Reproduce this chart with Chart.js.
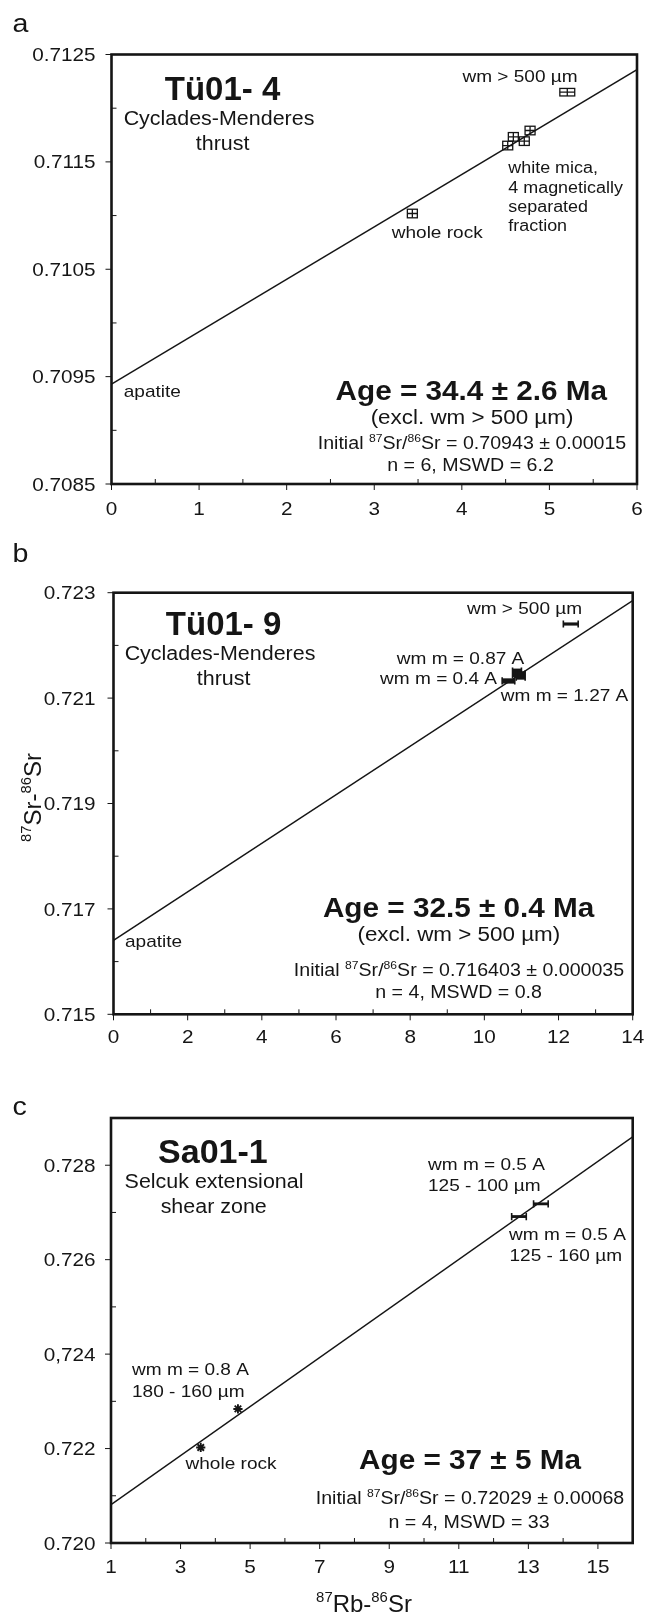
<!DOCTYPE html>
<html>
<head>
<meta charset="utf-8">
<script src="https://cdn.jsdelivr.net/npm/chart.js@4.4.1/dist/chart.umd.min.js"></script>
<style>
  html, body { margin: 0; padding: 0; background: #ffffff; }
  body { width: 646px; height: 1614px; position: relative; overflow: hidden; }
  canvas { position: absolute; left: 0; }
</style>
</head>
<body>
<canvas id="panelA"></canvas>
<canvas id="panelB"></canvas>
<canvas id="panelC"></canvas>
<script>
// ---------- Panel a: Tü01-4 ----------
const aXTicks = [0, 1, 2, 3, 4, 5, 6];
const aXTickLabels = ['0', '1', '2', '3', '4', '5', '6'];
const aXMinor = [0.5, 1.5, 2.5, 3.5, 4.5, 5.5];
const aYTicks = [0.7085, 0.7095, 0.7105, 0.7115, 0.7125];
const aYTickLabels = ['0.7085', '0.7095', '0.7105', '0.7115', '0.7125'];
const aYMinor = [0.709, 0.710, 0.711, 0.712];
// whole rock, four white-mica fractions, wm > 500 µm
const aRbSr   = [3.435, 4.524, 4.588, 4.713, 4.779, 5.204];
const aSrSr   = [0.711019, 0.711652, 0.711733, 0.711693, 0.711792, 0.712149];
const aRbErr  = [0.057, 0.057, 0.057, 0.057, 0.057, 0.085];
const aSrErr  = [0.00004, 0.00004, 0.00004, 0.00004, 0.00004, 0.000035];
const aIsoX   = [0, 6];
const aIsoY   = [0.70943, 0.71236];

// ---------- Panel b: Tü01-9 ----------
const bXTicks = [0, 2, 4, 6, 8, 10, 12, 14];
const bXTickLabels = ['0', '2', '4', '6', '8', '10', '12', '14'];
const bXMinor = [1, 3, 5, 7, 9, 11, 13];
const bYTicks = [0.715, 0.717, 0.719, 0.721, 0.723];
const bYTickLabels = ['0.715', '0.717', '0.719', '0.721', '0.723'];
const bYMinor = [0.716, 0.718, 0.720, 0.722];
// wm m = 0.4 A, wm m = 0.87 A, wm m = 1.27 A, wm > 500 µm
const bRbSr   = [10.65, 10.88, 10.98, 12.33];
const bSrSr   = [0.721325, 0.72148, 0.72143, 0.722406];
const bRbErr  = [0.17, 0.12, 0.12, 0.2];
const bSrErr  = [0.00005, 0.00008, 0.00008, 0.00003];
const bIsoX   = [0, 14];
const bIsoY   = [0.716403, 0.72285];

// ---------- Panel c: Sa01-1 ----------
const cXTicks = [1, 3, 5, 7, 9, 11, 13, 15];
const cXTickLabels = ['1', '3', '5', '7', '9', '11', '13', '15'];
const cXMinor = [2, 4, 6, 8, 10, 12, 14];
const cYTicks = [0.720, 0.722, 0.724, 0.726, 0.728];
const cYTickLabels = ['0.720', '0.722', '0,724', '0.726', '0.728'];
const cYMinor = [0.721, 0.723, 0.725, 0.727];
// whole rock, wm m = 0.8 A (180-160 µm), wm m = 0.5 A (125-160 µm), wm m = 0.5 A (125-100 µm)
const cRbSr   = [3.58, 4.65, 12.73, 13.36];
const cSrSr   = [0.722023, 0.722839, 0.726913, 0.727182];
const cRbErr  = [0, 0, 0.21, 0.21];
const cSrErr  = [0, 0, 0.00003, 0.00003];
const cIsoX   = [1, 16];
const cIsoY   = [0.72081, 0.7286];

// ---------- drawing helpers ----------
const FONT = '"Liberation Sans", Arial, Helvetica, sans-serif';
const INK = '#151515';

function parseRich(str) {
  // "^{..}" marks a superscript run
  const parts = [];
  const re = /\^\{([^}]*)\}/g;
  let last = 0, m;
  while ((m = re.exec(str)) !== null) {
    if (m.index > last) parts.push([str.slice(last, m.index), false]);
    parts.push([m[1], true]);
    last = re.lastIndex;
  }
  if (last < str.length) parts.push([str.slice(last), false]);
  return parts;
}

function drawText(ctx, str, x, y, o) {
  const size = o.size, sx = o.sx || 1, weight = o.bold ? 'bold ' : '';
  const parts = parseRich(str);
  const fontFor = sup => weight + (sup ? size * 0.62 : size) + 'px ' + FONT;
  let w = 0;
  for (const [t, sup] of parts) { ctx.font = fontFor(sup); w += ctx.measureText(t).width; }
  let start = x;
  if (o.align === 'center') start = x - w * sx / 2;
  else if (o.align === 'right') start = x - w * sx;
  ctx.save();
  ctx.translate(o.rotate ? x : start, y);
  if (o.rotate) { ctx.rotate(-Math.PI / 2); ctx.translate(-w * sx / 2, 0); }
  ctx.scale(sx, 1);
  ctx.fillStyle = INK;
  ctx.textBaseline = 'alphabetic';
  ctx.textAlign = 'left';
  let cx = 0;
  for (const [t, sup] of parts) {
    ctx.font = fontFor(sup);
    ctx.fillText(t, cx, sup ? -size * 0.40 : 0);
    cx += ctx.measureText(t).width;
  }
  ctx.restore();
}

function drawMarker(ctx, xs, ys, kind, x, y, ex, ey) {
  const cx = xs.getPixelForValue(x), cy = ys.getPixelForValue(y);
  ctx.save();
  ctx.strokeStyle = INK; ctx.fillStyle = INK;
  if (kind === 'crossbox') {
    const x1 = xs.getPixelForValue(x - ex), x2 = xs.getPixelForValue(x + ex);
    const y1 = ys.getPixelForValue(y + ey), y2 = ys.getPixelForValue(y - ey);
    ctx.lineWidth = 1.3;
    ctx.strokeRect(x1, y1, x2 - x1, y2 - y1);
    ctx.beginPath();
    ctx.moveTo(x1, cy); ctx.lineTo(x2, cy);
    ctx.moveTo(cx, y1); ctx.lineTo(cx, y2);
    ctx.stroke();
  } else if (kind === 'bar') {
    const x1 = xs.getPixelForValue(x - ex), x2 = xs.getPixelForValue(x + ex);
    let y1 = ys.getPixelForValue(y + ey), y2 = ys.getPixelForValue(y - ey);
    if (y2 - y1 < 2.6) { y1 = cy - 1.3; y2 = cy + 1.3; }
    ctx.fillRect(x1, y1, x2 - x1, y2 - y1);
    const cap = Math.max(3.6, (y2 - y1) / 2 + 1);
    ctx.lineWidth = 1.6;
    ctx.beginPath();
    ctx.moveTo(x1, cy - cap); ctx.lineTo(x1, cy + cap);
    ctx.moveTo(x2, cy - cap); ctx.lineTo(x2, cy + cap);
    ctx.stroke();
  } else if (kind === 'star') {
    const r = 4.6;
    ctx.lineWidth = 1.9;
    ctx.beginPath();
    for (let k = 0; k < 4; k++) {
      const a = k * Math.PI / 4;
      ctx.moveTo(cx - r * Math.cos(a), cy - r * Math.sin(a));
      ctx.lineTo(cx + r * Math.cos(a), cy + r * Math.sin(a));
    }
    ctx.stroke();
  }
  ctx.restore();
}

const TXT = 17, TICK = 18.5, SX = 1.12;

const panels = [
  {
    id: 'panelA', top: 0, height: 525,
    area: { left: 111.5, top: 54.5, right: 637, bottom: 484 },
    x: [0, 6], y: [0.7085, 0.7125],
    xTicks: aXTicks, xLabels: aXTickLabels, xMinor: aXMinor,
    yTicks: aYTicks, yLabels: aYTickLabels, yMinor: aYMinor,
    isoX: aIsoX, isoY: aIsoY,
    px: aRbSr, py: aSrSr, pex: aRbErr, pey: aSrErr,
    marks: ['crossbox', 'crossbox', 'crossbox', 'crossbox', 'crossbox', 'crossbox'],
    xLabelCenter: 508,
    texts: [
      ['a', 12.4, 32, { size: 26, sx: 1.1 }],
      ['Tü01- 4', 222.5, 99.5, { size: 34, bold: true, align: 'center', sx: 0.97 }],
      ['Cyclades-Menderes', 219, 124.6, { size: 19.5, align: 'center', sx: 1.1 }],
      ['thrust', 222.6, 149.5, { size: 19.5, align: 'center', sx: 1.1 }],
      ['wm > 500 µm', 520, 81.5, { size: TXT, align: 'center', sx: SX }],
      ['white mica,', 508.3, 173.3, { size: 16, sx: SX }],
      ['4 magnetically', 508.3, 192.5, { size: 16, sx: SX }],
      ['separated', 508.3, 211.5, { size: 16, sx: SX }],
      ['fraction', 508.3, 230.5, { size: 16, sx: SX }],
      ['whole rock', 391.7, 238.3, { size: TXT, sx: SX }],
      ['apatite', 123.7, 397, { size: TXT, sx: SX }],
      ['Age = 34.4 ± 2.6 Ma', 471.3, 400.3, { size: 27, bold: true, align: 'center', sx: 1.1 }],
      ['(excl. wm > 500 µm)', 472, 423.5, { size: 20, align: 'center', sx: SX }],
      ['Initial ^{87}Sr/^{86}Sr = 0.70943 ± 0.00015', 472, 448.5, { size: 17.5, align: 'center', sx: SX }],
      ['n = 6, MSWD = 6.2', 470.5, 471, { size: 17.5, align: 'center', sx: SX }]
    ]
  },
  {
    id: 'panelB', top: 525, height: 535,
    area: { left: 113.5, top: 592.7, right: 632.7, bottom: 1014.3 },
    x: [0, 14], y: [0.715, 0.723],
    xTicks: bXTicks, xLabels: bXTickLabels, xMinor: bXMinor,
    yTicks: bYTicks, yLabels: bYTickLabels, yMinor: bYMinor,
    isoX: bIsoX, isoY: bIsoY,
    px: bRbSr, py: bSrSr, pex: bRbErr, pey: bSrErr,
    marks: ['bar', 'bar', 'bar', 'bar'],
    xLabelCenter: 1036,
    texts: [
      ['b', 12.4, 561.5, { size: 26, sx: 1.1 }],
      ['Tü01- 9', 223.6, 634.6, { size: 34, bold: true, align: 'center', sx: 0.97 }],
      ['Cyclades-Menderes', 220, 659.5, { size: 19.5, align: 'center', sx: 1.1 }],
      ['thrust', 223.6, 685, { size: 19.5, align: 'center', sx: 1.1 }],
      ['wm > 500 µm', 524.5, 614, { size: TXT, align: 'center', sx: SX }],
      ['wm m = 0.87 A', 524.3, 663.5, { size: TXT, align: 'right', sx: SX }],
      ['wm m = 0.4 A', 497, 683.8, { size: TXT, align: 'right', sx: SX }],
      ['wm m = 1.27 A', 500.8, 701, { size: TXT, sx: SX }],
      ['apatite', 125, 947, { size: TXT, sx: SX }],
      ['Age = 32.5 ± 0.4 Ma', 458.6, 917, { size: 27, bold: true, align: 'center', sx: 1.1 }],
      ['(excl. wm > 500 µm)', 458.8, 941, { size: 20, align: 'center', sx: SX }],
      ['Initial ^{87}Sr/^{86}Sr = 0.716403 ± 0.000035', 459, 976, { size: 17.5, align: 'center', sx: SX }],
      ['n = 4, MSWD = 0.8', 458.6, 998.4, { size: 17.5, align: 'center', sx: SX }],
      ['^{87}Sr-^{86}Sr', 41, 797.5, { size: 24, rotate: true }]
    ]
  },
  {
    id: 'panelC', top: 1060, height: 554,
    area: { left: 111, top: 1118, right: 632.7, bottom: 1543 },
    x: [1, 16], y: [0.720, 0.729],
    xTicks: cXTicks, xLabels: cXTickLabels, xMinor: cXMinor,
    yTicks: cYTicks, yLabels: cYTickLabels, yMinor: cYMinor,
    isoX: cIsoX, isoY: cIsoY,
    px: cRbSr, py: cSrSr, pex: cRbErr, pey: cSrErr,
    marks: ['star', 'star', 'bar', 'bar'],
    xLabelCenter: 1566.5,
    texts: [
      ['c', 12.4, 1115, { size: 26, sx: 1.1 }],
      ['Sa01-1', 212.9, 1162.6, { size: 34, bold: true, align: 'center', sx: 1.0 }],
      ['Selcuk extensional', 214, 1188.3, { size: 19.5, align: 'center', sx: 1.1 }],
      ['shear zone', 213.7, 1212.8, { size: 19.5, align: 'center', sx: 1.1 }],
      ['wm m = 0.5 A', 428, 1170, { size: TXT, sx: SX }],
      ['125 - 100 µm', 428, 1191, { size: TXT, sx: SX }],
      ['wm m = 0.5 A', 509, 1239.5, { size: TXT, sx: SX }],
      ['125 - 160 µm', 509.5, 1261, { size: TXT, sx: SX }],
      ['wm m = 0.8 A', 132, 1375, { size: TXT, sx: SX }],
      ['180 - 160 µm', 132, 1397, { size: TXT, sx: SX }],
      ['whole rock', 185.5, 1469, { size: TXT, sx: SX }],
      ['Age = 37 ± 5 Ma', 470, 1469, { size: 27, bold: true, align: 'center', sx: 1.1 }],
      ['Initial ^{87}Sr/^{86}Sr = 0.72029 ± 0.00068', 470, 1504.2, { size: 17.5, align: 'center', sx: SX }],
      ['n = 4, MSWD = 33', 469, 1528, { size: 17.5, align: 'center', sx: SX }],
      ['^{87}Rb-^{86}Sr', 364, 1612, { size: 24, align: 'center' }]
    ]
  }
];

const isochronPlugin = {
  id: 'isochronDecor',
  afterDatasetsDraw(chart) {
    const p = chart.options.plugins.isochronDecor.panel;
    const ctx = chart.ctx, xs = chart.scales.x, ys = chart.scales.y;
    const ca = chart.chartArea;
    // sample markers
    for (let i = 0; i < p.px.length; i++) {
      drawMarker(ctx, xs, ys, p.marks[i], p.px[i], p.py[i], p.pex[i], p.pey[i]);
    }
    ctx.save();
    ctx.strokeStyle = INK;
    // tick marks: majors outward, minors inward
    ctx.lineWidth = 1;
    ctx.beginPath();
    for (const v of p.xTicks) { const X = xs.getPixelForValue(v); ctx.moveTo(X, ca.bottom); ctx.lineTo(X, ca.bottom + 6); }
    for (const v of p.yTicks) { const Y = ys.getPixelForValue(v); ctx.moveTo(ca.left, Y); ctx.lineTo(ca.left - 6, Y); }
    for (const v of p.xMinor) { const X = xs.getPixelForValue(v); ctx.moveTo(X, ca.bottom); ctx.lineTo(X, ca.bottom - 5); }
    for (const v of p.yMinor) { const Y = ys.getPixelForValue(v); ctx.moveTo(ca.left, Y); ctx.lineTo(ca.left + 5, Y); }
    ctx.stroke();
    // frame
    ctx.lineWidth = 2.6;
    ctx.strokeRect(ca.left, ca.top, ca.right - ca.left, ca.bottom - ca.top);
    ctx.restore();
    // tick labels
    const capH = TICK * 0.716;
    p.xTicks.forEach((v, i) => {
      drawText(ctx, p.xLabels[i], xs.getPixelForValue(v), p.xLabelCenter - p.top + capH / 2, { size: TICK, align: 'center', sx: SX });
    });
    p.yTicks.forEach((v, i) => {
      drawText(ctx, p.yLabels[i], 95.5, ys.getPixelForValue(v) + capH / 2, { size: TICK, align: 'right', sx: SX });
    });
    // annotations
    for (const [t, x, y, o] of p.texts) drawText(ctx, t, x, y - p.top, o);
  }
};

for (const p of panels) {
  const cv = document.getElementById(p.id);
  cv.width = 646; cv.height = p.height;
  cv.style.top = p.top + 'px';
  cv.style.width = '646px'; cv.style.height = p.height + 'px';
  new Chart(cv, {
    type: 'scatter',
    data: {
      datasets: [
        {
          type: 'line',
          data: p.isoX.map((x, i) => ({ x, y: p.isoY[i] })),
          borderColor: INK, borderWidth: 1.5, pointRadius: 0, fill: false, tension: 0
        },
        {
          data: p.px.map((x, i) => ({ x, y: p.py[i] })),
          pointRadius: 0, pointHoverRadius: 0, showLine: false
        }
      ]
    },
    options: {
      responsive: false, animation: false, devicePixelRatio: 1,
      events: [],
      layout: { padding: { left: p.area.left, top: p.area.top - p.top, right: 646 - p.area.right, bottom: p.top + p.height - p.area.bottom } },
      plugins: { legend: { display: false }, tooltip: { enabled: false }, isochronDecor: { panel: p } },
      scales: {
        x: { type: 'linear', min: p.x[0], max: p.x[1], display: false },
        y: { type: 'linear', min: p.y[0], max: p.y[1], display: false }
      }
    },
    plugins: [isochronPlugin]
  });
}
</script>
</body>
</html>
